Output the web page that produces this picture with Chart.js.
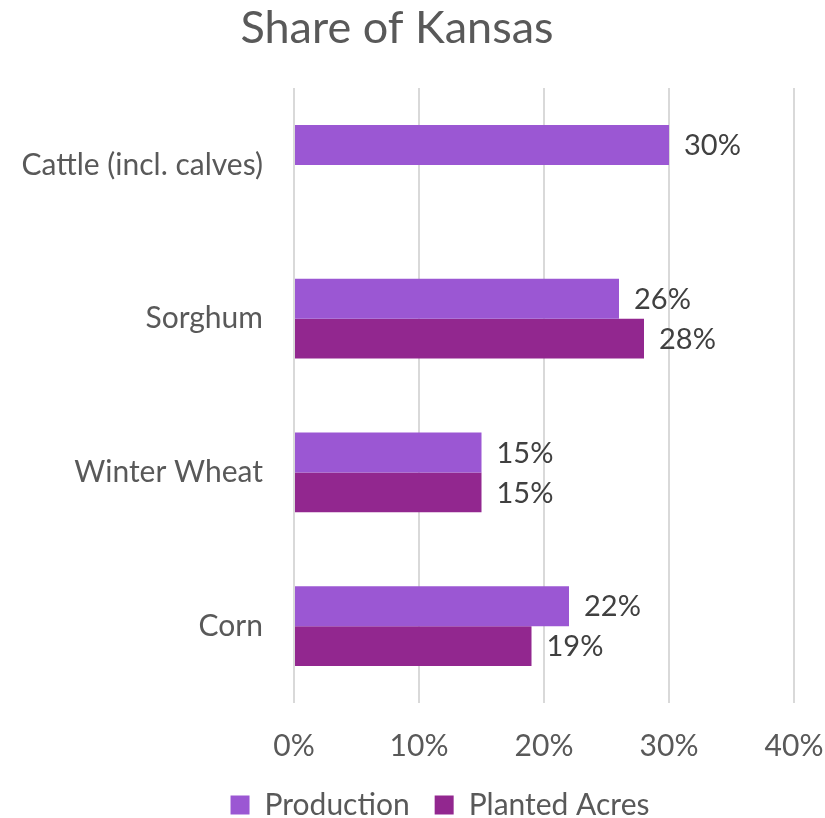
<!DOCTYPE html>
<html>
<head>
<meta charset="utf-8">
<script src="https://cdn.jsdelivr.net/npm/chart.js@4/dist/chart.umd.min.js"></script>
<style>
  html, body { margin: 0; padding: 0; background: #fff; }
  #wrap { width: 825px; height: 818px; }
</style>
</head>
<body>
<div id="wrap"><canvas id="myChart" width="825" height="818"></canvas></div>
<script>
// categories and shares (percent)
const categories = ['Cattle (incl. calves)', 'Sorghum', 'Winter Wheat', 'Corn'];
const production = [30, 26, 15, 22];
const plantedAcres = [null, 28, 15, 19];
const xTicks = [0, 10, 20, 30, 40];

const FONT = 'Lato, "Open Sans", sans-serif';

// write the value just past the end of each bar
const barLabels = {
  id: 'barLabels',
  afterDatasetsDraw(chart) {
    const ctx = chart.ctx;
    ctx.save();
    ctx.font = '29px ' + FONT;
    ctx.fillStyle = '#404040';
    ctx.textAlign = 'left';
    ctx.textBaseline = 'middle';
    chart.data.datasets.forEach((ds, i) => {
      chart.getDatasetMeta(i).data.forEach((bar, j) => {
        const v = ds.data[j];
        if (v == null) return;
        ctx.fillText(v + '%', bar.x + 15, bar.y + 1);
      });
    });
    ctx.restore();
  }
};

// nudge the legend box a bit right and down
const legendShift = {
  id: 'legendShift',
  afterLayout(chart) {
    const lg = chart.legend;
    if (!lg) return;
    lg.left += 43;
    lg.right += 43;
    lg.top += 12;
    lg.bottom += 12;
  }
};

const data = {
  labels: categories,
  datasets: [
    {
      label: 'Production',
      data: production,
      backgroundColor: '#9B57D3',
      categoryPercentage: 0.52,
      barPercentage: 1
    },
    {
      label: 'Planted Acres',
      data: plantedAcres,
      backgroundColor: '#92278F',
      categoryPercentage: 0.52,
      barPercentage: 1
    }
  ]
};

const config = {
  type: 'bar',
  data: data,
  options: {
    indexAxis: 'y',
    responsive: false,
    animation: false,
    layout: { padding: { left: 0, right: 31, top: 0, bottom: 0 } },
    scales: {
      x: {
        min: 0,
        max: 40,
        afterBuildTicks(axis) {
          axis.ticks = xTicks.map(v => ({ value: v }));
        },
        grid: { color: '#d9d9d9', lineWidth: 2, drawTicks: false },
        border: { display: false },
        ticks: {
          padding: 25,
          color: '#595959',
          font: { family: FONT, size: 30 },
          callback: v => v + '%'
        },
        afterFit(axis) {
          axis.height = 65;
          axis.paddingLeft = 0;
          axis.paddingRight = 0;
        }
      },
      y: {
        grid: { display: false, drawTicks: false },
        border: { display: false },
        ticks: {
          padding: 31,
          color: '#595959',
          font: { family: FONT, size: 30 }
        },
        afterFit(axis) {
          axis.width = 294;
          axis.paddingTop = 0;
          axis.paddingBottom = 0;
        }
      }
    },
    plugins: {
      title: {
        display: true,
        text: 'Share of Kansas',
        color: '#595959',
        font: { family: FONT, size: 45, weight: 'normal' },
        padding: { top: 1, bottom: 33 }
      },
      legend: {
        position: 'bottom',
        labels: {
          color: '#595959',
          font: { family: FONT, size: 30 },
          boxWidth: 19,
          boxHeight: 19,
          padding: 10,
          // extra room after the first entry
          generateLabels(chart) {
            const items = Chart.defaults.plugins.legend.labels.generateLabels(chart);
            items[0].text += '\u2002';
            return items;
          }
        }
      },
      tooltip: { enabled: false }
    }
  },
  plugins: [barLabels, legendShift]
};

const myChart = new Chart(document.getElementById('myChart'), config);
</script>
</body>
</html>
